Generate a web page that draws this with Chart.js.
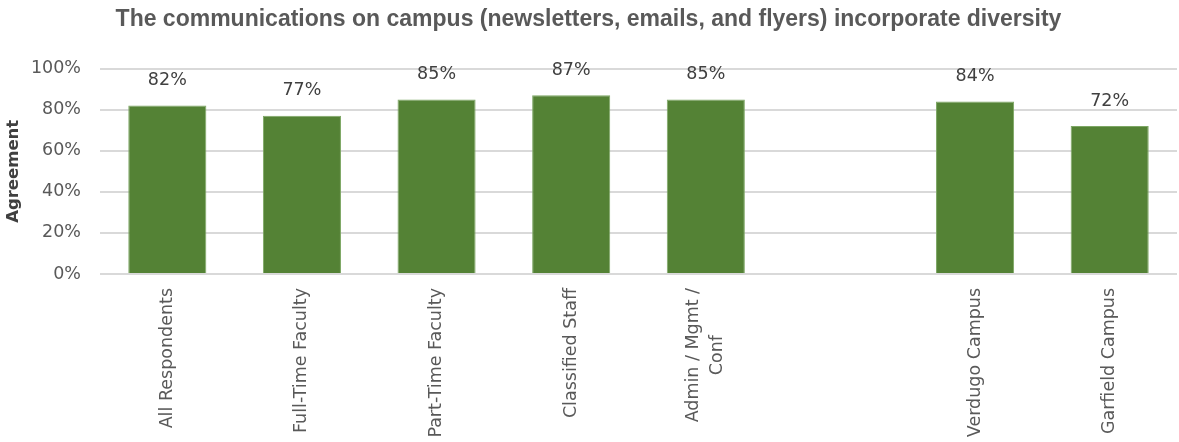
<!DOCTYPE html>
<html>
<head>
<meta charset="utf-8">
<title>Campus communications</title>
<script src="https://cdn.jsdelivr.net/npm/chart.js@4.4.1/dist/chart.umd.min.js"></script>
<style>
  html, body { margin:0; padding:0; background:#fff; }
  .chart-wrap { position:relative; width:1179px; height:442px; }
</style>
</head>
<body>
<div class="chart-wrap"><canvas id="chartComms"></canvas></div>
<script>
const chartTitle = 'The communications on campus (newsletters, emails, and flyers) incorporate diversity';
// empty slot keeps the gap between staff groups and campuses
const groups = ['All Respondents', 'Full-Time Faculty', 'Part-Time Faculty', 'Classified Staff',
  ['Admin / Mgmt /', 'Conf'], '', 'Verdugo Campus', 'Garfield Campus'];
const agreement = [82, 77, 85, 87, 85, null, 84, 72];
const yTicks = [0, 20, 40, 60, 80, 100];

const GREEN = '#548235';
const TEXT = '#595959';
const FONT = '"DejaVu Sans", sans-serif';

// values above bars
const valueLabels = {
  id: 'valueLabels',
  afterDatasetsDraw(chart) {
    const { ctx } = chart;
    const meta = chart.getDatasetMeta(0);
    ctx.save();
    ctx.font = '17.5px ' + FONT;
    ctx.fillStyle = '#404040';
    ctx.textAlign = 'center';
    ctx.textBaseline = 'middle';
    meta.data.forEach((bar, i) => {
      if (agreement[i] == null) return;
      ctx.fillText(agreement[i] + '%', bar.x, bar.y - 25);
    });
    ctx.restore();
  }
};

// vertical category labels, multi-line ones centred on each other
const groupLabels = {
  id: 'groupLabels',
  afterDraw(chart) {
    const { ctx } = chart;
    const x = chart.scales.x;
    ctx.save();
    ctx.font = '17.5px ' + FONT;
    ctx.fillStyle = TEXT;
    ctx.textAlign = 'center';
    ctx.textBaseline = 'middle';
    groups.forEach((g, i) => {
      const lines = Array.isArray(g) ? g : [g];
      if (!lines[0]) return;
      const w = Math.max(...lines.map(l => ctx.measureText(l).width));
      ctx.save();
      ctx.translate(x.getPixelForTick(i), chart.chartArea.bottom + 14 + w / 2);
      ctx.rotate(-Math.PI / 2);
      lines.forEach((l, j) => ctx.fillText(l, 0, (j - (lines.length - 1) / 2) * 24));
      ctx.restore();
    });
    ctx.restore();
  }
};

new Chart(document.getElementById('chartComms'), {
  type: 'bar',
  data: {
    labels: groups,
    datasets: [{
      data: agreement,
      backgroundColor: GREEN,
      borderColor: '#7da764',
      borderWidth: 1,
      categoryPercentage: 1,
      barPercentage: 0.58
    }]
  },
  options: {
    responsive: true,
    maintainAspectRatio: false,
    devicePixelRatio: 1,
    animation: false,
    layout: { padding: { left: 0, right: 2, top: 0, bottom: 160 } },
    plugins: {
      legend: { display: false },
      tooltip: { enabled: false },
      title: {
        display: true,
        text: chartTitle,
        color: TEXT,
        font: { family: '"Liberation Sans Narrow", "Liberation Sans", sans-serif', size: 23, weight: 'bold' },
        padding: { top: 6, bottom: 35 }
      }
    },
    scales: {
      x: {
        ticks: { display: false },
        grid: { display: false },
        border: { display: false }
      },
      y: {
        min: 0,
        max: 100,
        afterFit: s => { s.width = 100; },
        afterBuildTicks: s => { s.ticks = yTicks.map(v => ({ value: v })); },
        ticks: {
          color: TEXT,
          padding: 19,
          font: { family: FONT, size: 17.5 },
          callback: v => v + '%'
        },
        grid: { color: '#d9d9d9', lineWidth: 2, drawTicks: false },
        border: { display: false },
        title: {
          display: true,
          text: 'Agreement',
          color: '#404040',
          font: { family: FONT, size: 16.5, weight: 'bold' },
          padding: { top: 4, bottom: 0 }
        }
      }
    }
  },
  plugins: [valueLabels, groupLabels]
});
</script>
</body>
</html>
